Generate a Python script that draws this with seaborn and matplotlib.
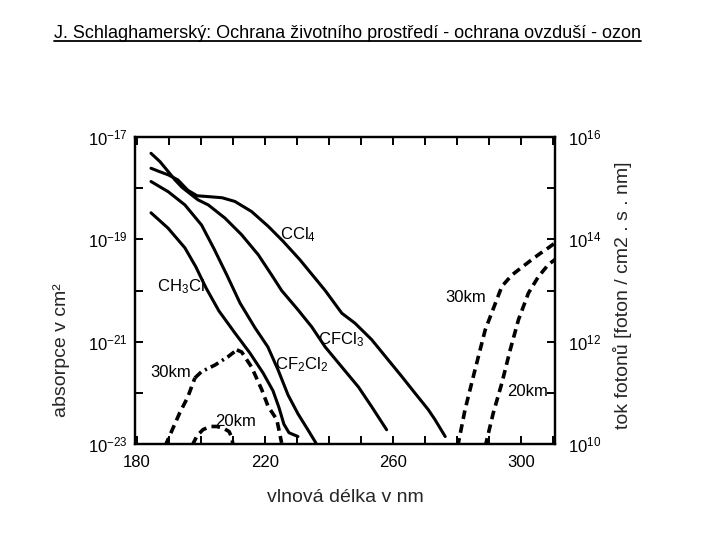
import matplotlib
matplotlib.use("Agg")
import matplotlib.pyplot as plt
import matplotlib.ticker as ticker
from matplotlib.lines import Line2D
import seaborn as sns
import numpy as np
import pandas as pd

# ---- data ----
# absorption cross sections (left axis, cm2)
ccl4_nm = [184.4, 187.2, 189.8, 192.8, 195.9, 198.8, 202.8, 206.6, 210.6, 215.8, 221.0, 225.7,
           230.9, 238.8, 244.0, 248.1, 253.3, 258.5, 262.7, 266.9, 271.0, 273.1, 276.3]
ccl4_abs = [2.45e-18, 2.09e-18, 1.82e-18, 1.45e-18, 9.1e-19, 7.1e-19, 6.8e-19, 6.5e-19, 5.5e-19,
            3.5e-19, 1.8e-19, 9.1e-20, 4.0e-20, 1.0e-20, 3.6e-21, 2.3e-21, 1.1e-21, 4.4e-22,
            2.1e-22, 9.8e-23, 4.7e-23, 3.0e-23, 1.4e-23]

cfcl3_nm = [184.4, 187.2, 189.8, 191.9, 194.0, 196.6, 199.1, 202.3, 207.5, 212.7, 217.9, 222.1,
            225.2, 230.3, 234.6, 238.8, 244.0, 249.2, 253.3, 258.0]
cfcl3_abs = [4.8e-18, 3.3e-18, 2.1e-18, 1.45e-18, 1.05e-18, 7.8e-19, 5.9e-19, 4.7e-19, 2.6e-19,
             1.23e-19, 5.0e-20, 2.0e-20, 1.0e-20, 4.2e-21, 1.95e-21, 7.9e-22, 3.2e-22, 1.3e-22,
             5.4e-23, 1.9e-23]

cf2cl2_nm = [184.4, 189.8, 195.0, 200.2, 204.1, 208.1, 212.2, 216.9, 220.9, 224.1, 227.2, 230.3,
             233.4, 235.9]
cf2cl2_abs = [1.35e-18, 8.5e-19, 4.7e-19, 1.9e-19, 6.5e-20, 2.0e-20, 5.7e-21, 1.86e-21, 7.9e-22,
              2.8e-22, 9.1e-23, 3.9e-23, 1.9e-23, 1.05e-23]

ch3cl_nm = [184.4, 189.7, 195.0, 198.4, 201.6, 205.6, 210.6, 215.3, 219.4, 222.5, 224.4, 225.9,
            227.5, 230.3]
ch3cl_abs = [3.3e-19, 1.66e-19, 6.8e-20, 2.9e-20, 1.12e-20, 4.0e-21, 1.48e-21, 6.0e-22, 2.45e-22,
             1.1e-22, 5.1e-23, 2.45e-23, 1.66e-23, 1.4e-23]

# photon flux (right axis, foton / cm2 . s . nm)
flux30_low_nm = [188.8, 193.4, 195.9, 198.1, 200.2, 204.4, 208.5, 211.2, 212.7, 215.8, 219.0,
                 221.0, 223.7, 225.2]
flux30_low = [9.1e9, 4.1e10, 8.3e10, 1.95e11, 2.6e11, 3.5e11, 5.1e11, 6.9e11, 6.3e11, 3.2e11,
              1.15e11, 5.4e10, 3.0e10, 1.05e10]

flux20_low_nm = [197.3, 198.8, 200.6, 202.8, 205.0, 207.2, 208.8, 209.7, 210.0]
flux20_low = [9.5e9, 1.45e10, 1.9e10, 2.2e10, 2.2e10, 2.0e10, 1.75e10, 1.3e10, 9.5e9]

flux30_high_nm = [280.2, 282.5, 285.6, 288.8, 292.4, 294.0, 297.1, 301.3, 305.4, 308.5, 310.6]
flux30_high = [8.9e9, 4.7e10, 2.8e11, 1.7e12, 6.6e12, 1.2e13, 2.0e13, 3.2e13, 5.0e13, 6.8e13, 8.5e13]

flux20_high_nm = [288.8, 291.3, 294.0, 296.6, 299.2, 302.3, 305.4, 308.5, 311.2]
flux20_high = [8.9e9, 4.0e10, 1.55e11, 6.9e11, 2.7e12, 8.9e12, 1.86e13, 3.2e13, 4.3e13]

x_ticks = [180, 190, 200, 210, 220, 230, 240, 250, 260, 270, 280, 290, 300, 310]
x_tick_labels = [180, 220, 260, 300]
left_major = [1e-23, 1e-21, 1e-19, 1e-17]
left_minor = [1e-22, 1e-20, 1e-18]
right_major = [1e10, 1e12, 1e14, 1e16]
right_minor = [1e11, 1e13, 1e15]

title = "J. Schlaghamerský: Ochrana životního prostředí - ochrana ovzduší - ozon"

# ---- style ----
sns.set_theme(style="white")
plt.rcParams["font.family"] = ["Liberation Sans", "DejaVu Sans"]
plt.rcParams["mathtext.fontset"] = "custom"
plt.rcParams["mathtext.rm"] = "Liberation Sans"
plt.rcParams["mathtext.it"] = "Liberation Sans:italic"
plt.rcParams["mathtext.bf"] = "Liberation Sans:bold"
plt.rcParams["mathtext.default"] = "regular"
plt.rcParams["axes.edgecolor"] = "black"
plt.rcParams["axes.linewidth"] = 1.6

solid_lw = 2.2
dash_lw = 2.6
dashed = (0, (2.4, 1.5))
dashdot = (0, (2.4, 1.2, 0.6, 1.2))

fig = plt.figure(figsize=(7.2, 5.4), dpi=100)
ax = fig.add_axes([135 / 720, 1 - 444 / 540, 420 / 720, 307 / 540])
ax.set_yscale("log")
ax2 = ax.twinx()
ax2.set_yscale("log")

# absorption curves
for nm, vals in [(ccl4_nm, ccl4_abs), (cfcl3_nm, cfcl3_abs),
                 (cf2cl2_nm, cf2cl2_abs), (ch3cl_nm, ch3cl_abs)]:
    df = pd.DataFrame({"nm": nm, "v": vals})
    sns.lineplot(data=df, x="nm", y="v", ax=ax, color="black", linewidth=solid_lw,
                 sort=False, estimator=None)

# flux curves
df = pd.DataFrame({"nm": flux30_low_nm, "v": flux30_low})
sns.lineplot(data=df.iloc[:4], x="nm", y="v", ax=ax2, color="black", linewidth=dash_lw,
             sort=False, estimator=None, linestyle=dashed)
sns.lineplot(data=df.iloc[3:8], x="nm", y="v", ax=ax2, color="black", linewidth=dash_lw,
             sort=False, estimator=None, linestyle=dashdot)
sns.lineplot(data=df.iloc[7:], x="nm", y="v", ax=ax2, color="black", linewidth=dash_lw,
             sort=False, estimator=None, linestyle=dashed)
for nm, vals in [(flux20_low_nm, flux20_low), (flux30_high_nm, flux30_high),
                 (flux20_high_nm, flux20_high)]:
    df = pd.DataFrame({"nm": nm, "v": vals})
    sns.lineplot(data=df, x="nm", y="v", ax=ax2, color="black", linewidth=dash_lw,
                 sort=False, estimator=None, linestyle=dashed)

# limits / ticks
ax.set_xlim(179.4, 310.6)
ax.set_ylim(1e-23, 1e-17)
ax2.set_ylim(1e10, 1e16)

ax.set_xticks(x_ticks)
ax.xaxis.set_major_formatter(ticker.FuncFormatter(
    lambda v, p: str(int(round(v))) if int(round(v)) in x_tick_labels else ""))
ax.set_yticks(left_major)
ax.set_yticks(left_minor, minor=True)
ax.yaxis.set_minor_formatter(ticker.NullFormatter())
ax2.set_yticks(right_major)
ax2.set_yticks(right_minor, minor=True)
ax2.yaxis.set_minor_formatter(ticker.NullFormatter())

ax.tick_params(axis="x", which="both", direction="in", top=True, bottom=True,
               length=6, width=1.4, pad=8, labelsize=12, colors="black")
ax.tick_params(axis="y", which="both", direction="in", left=True, right=False,
               length=6, width=1.4, pad=5, labelsize=12, colors="black")
ax2.tick_params(axis="y", which="both", direction="in", right=True, left=False,
                length=6, width=1.4, pad=9, labelsize=12, colors="black")

for a in (ax, ax2):
    for s in a.spines.values():
        s.set_color("black")
        s.set_linewidth(1.6)
    a.grid(False)

# axis labels
ax.set_xlabel("vlnová délka v nm", fontsize=14, va="center")
ax.xaxis.set_label_coords(0.5, -0.173)
ax.set_ylabel("absorpce v cm²", fontsize=14, va="center")
ax.yaxis.set_label_coords(-0.174, 0.306)
ax2.set_ylabel("tok fotonů [foton / cm2 . s . nm]", fontsize=14, va="center", rotation=90)
ax2.yaxis.set_label_coords(1.160, 0.485)

# curve labels
lab_kw = dict(fontsize=12, ha="left", va="center", color="black")
ax.text(224.7, 1.23e-19, "CCl$_4$", **lab_kw)
ax.text(186.2, 1.17e-20, "CH$_3$Cl", **lab_kw)
ax.text(236.6, 1.1e-21, "CFCl$_3$", **lab_kw)
ax.text(223.1, 3.5e-22, "CF$_2$Cl$_2$", **lab_kw)
ax.text(184.1, 2.45e-22, "30km", **lab_kw)
ax.text(204.4, 2.8e-23, "20km", **lab_kw)
ax.text(276.2, 7.2e-21, "30km", **lab_kw)
ax.text(295.6, 1.05e-22, "20km", **lab_kw)

# underlined title
t = fig.text(0.4826, 1 - 38 / 540, title, ha="center", va="baseline", fontsize=13, color="black")
fig.canvas.draw()
bb = t.get_window_extent(renderer=fig.canvas.get_renderer()).transformed(fig.transFigure.inverted())
fig.add_artist(Line2D([bb.x0, bb.x1], [1 - 41 / 540, 1 - 41 / 540], transform=fig.transFigure,
                      color="black", linewidth=1.3))

fig.savefig("out.png", dpi=100)
